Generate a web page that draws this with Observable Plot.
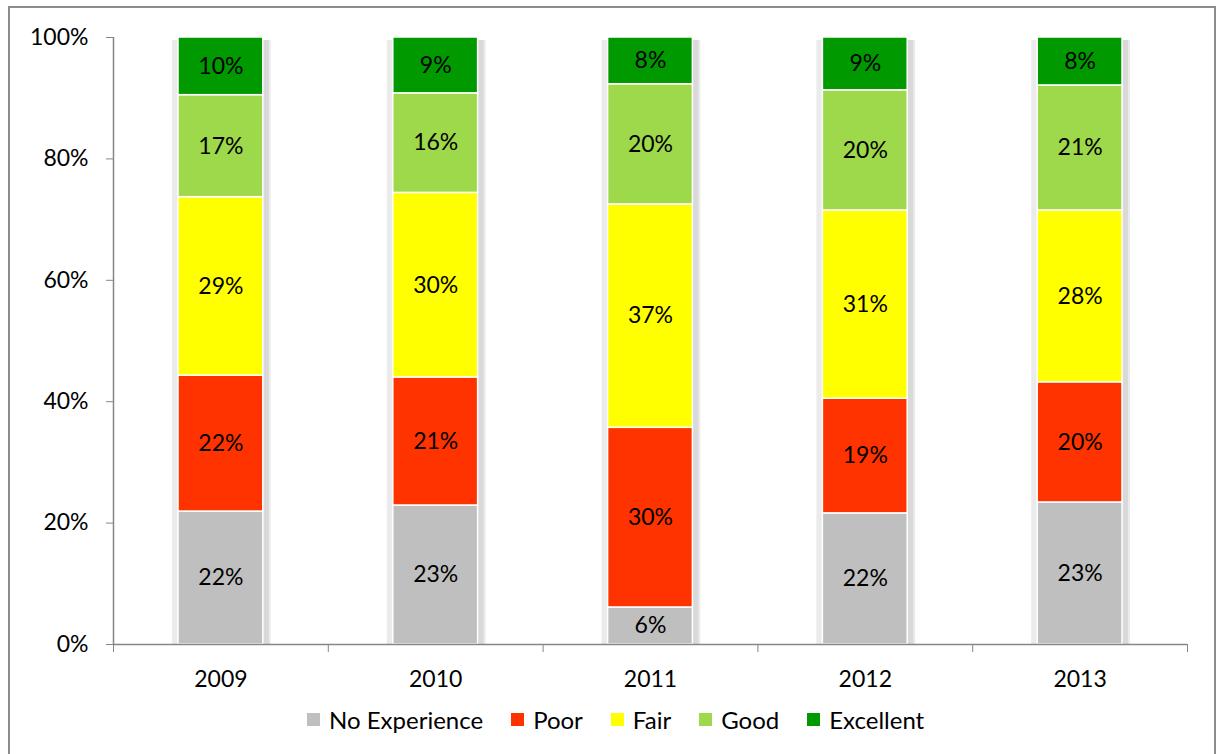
<!DOCTYPE html>
<html>
<head>
<meta charset="utf-8">
<script src="https://cdn.jsdelivr.net/npm/d3@7"></script>
<script src="https://cdn.jsdelivr.net/npm/@observablehq/plot@0.6"></script>
<style>
  html, body { margin: 0; padding: 0; background: #fff; overflow: hidden; }
  #wrap { position: absolute; left: 8px; top: 6px; width: 1208px; height: 760px;
          border: 2px solid #8c8c8c; box-sizing: border-box; overflow: hidden; background: #fff;
          font-family: Lato, "Open Sans", sans-serif; }
  #chart { position: absolute; left: 0; top: 0; }
  #legend { position: absolute; left: 297px; top: 697px; display: flex; align-items: center;
            font-size: 24px; color: #000; white-space: nowrap; }
  #legend .item { display: flex; align-items: center; margin-right: 28px; }
  #legend .sw { width: 13px; height: 13px; margin-right: 9px; }
</style>
</head>
<body>
<div id="wrap">
  <div id="chart"></div>
  <div id="legend"></div>
</div>
<script>
const years = ["2009", "2010", "2011", "2012", "2013"];
const categories = ["No Experience", "Poor", "Fair", "Good", "Excellent"];
const colors = ["#BFBFBF", "#FF3300", "#FFFF00", "#9ED84B", "#009900"];
const noExperience = [21.9, 22.9, 6.1, 21.6, 23.4];
const poor         = [22.4, 21.1, 29.6, 18.9, 19.8];
const fair         = [29.4, 30.4, 36.8, 31.0, 28.3];
const good         = [16.8, 16.4, 19.8, 19.8, 20.6];
const excellent    = [9.5, 9.2, 7.7, 8.7, 7.9];
const yTicks = [0, 20, 40, 60, 80, 100];

const series = [noExperience, poor, fair, good, excellent];
const rows = [];
years.forEach((yr, i) => {
  let acc = 0;
  categories.forEach((c, k) => {
    const v = series[k][i];
    rows.push({year: yr, i, cat: c, v, y1: acc, y2: acc + v});
    acc += v;
  });
});

const axisColor = "#868686";
const font = "Lato, 'Open Sans', sans-serif";
const chart = Plot.plot({
  width: 1204,
  height: 690,
  marginLeft: 103,
  marginRight: 27,
  marginTop: 29,
  marginBottom: 54,
  style: {fontFamily: font, fontSize: "23px", color: "#000", background: "transparent"},
  x: {domain: [0, years.length], axis: null},
  y: {domain: [0, 100], axis: null},
  color: {domain: categories, range: colors},
  marks: [
    // bar shadow
    Plot.rectY(years, {x1: (d, i) => i, x2: (d, i) => i + 1, y1: 0, y2: 99.5,
      fill: "#ebebeb", insetLeft: 59, insetRight: 57}),
    Plot.rectY(years, {x1: (d, i) => i, x2: (d, i) => i + 1, y1: 0, y2: 99.5,
      fill: "#d9d9d9", insetLeft: 148, insetRight: 59}),
    Plot.rectY(rows, {x1: d => d.i, x2: d => d.i + 1, y1: "y1", y2: "y2", fill: "cat",
      stroke: "#fff", strokeWidth: 1.5, insetLeft: 65, insetRight: 65}),
    Plot.text(rows, {x: d => d.i + 0.5, y: d => (d.y1 + d.y2) / 2,
      text: d => Math.round(d.v) + "%", fill: "#000", fontSize: 23}),
    Plot.axisY({ticks: yTicks, tickFormat: d => d + "%", tickSize: 7, tickPadding: 18,
      stroke: axisColor, fill: "#000", fontSize: 23}),
    Plot.axisX({ticks: d3.range(years.length + 1), tickFormat: () => "", tickSize: 8,
      stroke: axisColor}),
    Plot.axisX({ticks: years.map((d, i) => i + 0.5), tickFormat: d => years[Math.floor(d)],
      tickSize: 0, tickPadding: 26, fill: "#000", fontSize: 23}),
    Plot.ruleX([0], {y1: 0, y2: 100, stroke: axisColor, strokeWidth: 1.5}),
    Plot.ruleY([0], {stroke: axisColor, strokeWidth: 1.5})
  ]
});
document.getElementById("chart").appendChild(chart);

const legend = document.getElementById("legend");
categories.forEach((c, k) => {
  const item = document.createElement("div");
  item.className = "item";
  const sw = document.createElement("span");
  sw.className = "sw";
  sw.style.background = colors[k];
  const t = document.createElement("span");
  t.textContent = c;
  item.appendChild(sw);
  item.appendChild(t);
  legend.appendChild(item);
});
</script>
</body>
</html>
